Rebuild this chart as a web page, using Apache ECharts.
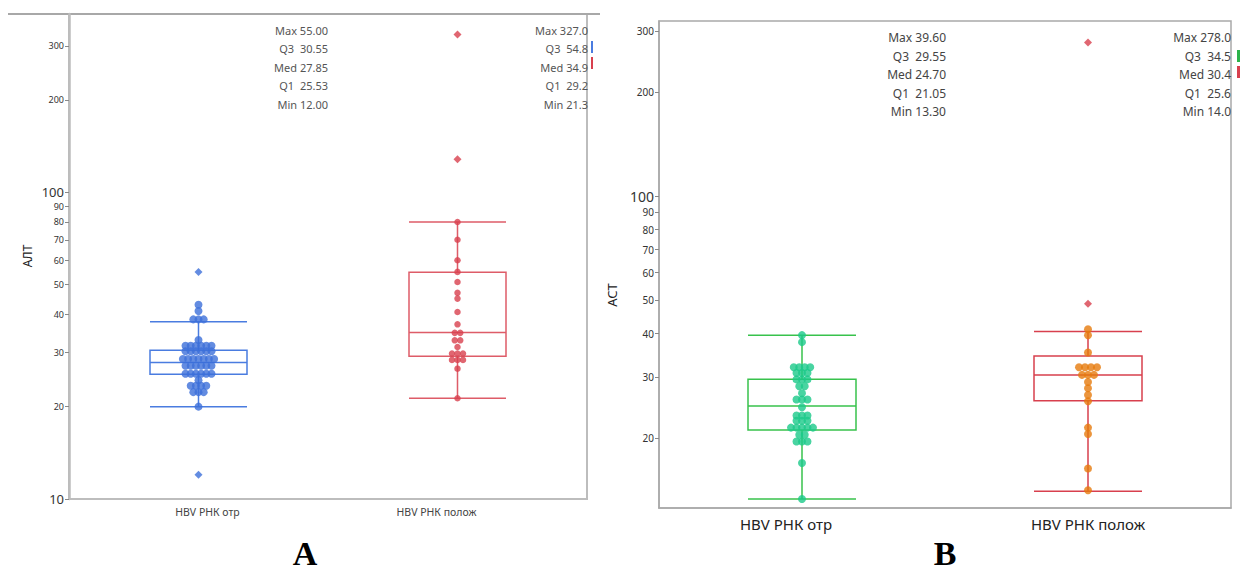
<!DOCTYPE html>
<html>
<head>
<meta charset="utf-8">
<script src="https://cdn.jsdelivr.net/npm/echarts@6/dist/echarts.min.js"></script>
<style>
html,body{margin:0;padding:0;background:#fff}
#main{width:1241px;height:573px}
</style>
</head>
<body>
<div id="main"></div>
<script>
var categories = ['HBV РНК отр', 'HBV РНК полож'];

// АЛТ (панель A)
var altNeg = [43, 41, 38.5, 38.5, 38.5, 33,
  31.6, 31.6, 31.6, 31.6, 31.6, 31.6,
  30.3, 30.3, 30.3, 30.3, 30.3, 30.3,
  28.6, 28.6, 28.6, 28.6, 28.6, 28.6, 28.6,
  27.2, 27.2, 27.2, 27.2, 27.2, 27.2,
  25.6, 25.6, 25.6, 25.6, 25.6, 25.6,
  24.4, 23.4, 23.4, 23.4, 23.4, 22.3, 22.3, 22.3, 20];
var altNegOut = [55, 12];
var altPos = [80, 70, 60, 55, 51, 47, 45, 40.7, 37.1, 34.8, 34.8, 32.9, 32.9, 31.3,
  29.8, 29.8, 29.8, 28.4, 28.4, 28.4, 26.6, 21.3];
var altPosOut = [327, 128];
var altNegBox = [20.0, 25.53, 27.85, 30.55, 37.8];
var altPosBox = [21.3, 29.2, 34.9, 54.8, 80];
var altTicks = [10, 20, 30, 40, 50, 60, 70, 80, 90, 100, 200, 300];

// АСТ (панель B)
var astNeg = [39.6, 37.8, 32, 32, 32, 32, 30.8, 30.8, 30.8, 29.5, 29.5, 29.5,
  28.2, 28.2, 26.9, 25.8, 25.8, 25.8, 24.5, 23.2, 23.2, 23.2, 22.4, 22.4, 22.4,
  21.4, 21.4, 21.4, 21.4, 21.4, 20.4, 20.4, 19.5, 19.5, 19.5, 16.9, 13.3];
var astPos = [41.2, 39.6, 35.3, 32, 32, 32, 32, 30.4, 30.4, 30.4, 29.0, 27.8, 26.6, 25.5,
  21.4, 20.5, 16.3, 14.1];
var astPosOut = [278, 48.8];
var astNegBox = [13.3, 21.05, 24.7, 29.55, 39.6];
var astPosBox = [14.0, 25.6, 30.4, 34.5, 40.6];
var astTicks = [20, 30, 40, 50, 60, 70, 80, 90, 100, 200, 300];

// сводка
var statNames = ['Max', 'Q3', 'Med', 'Q1', 'Min'];
var altNegStats = ['55.00', '30.55', '27.85', '25.53', '12.00'];
var altPosStats = ['327.0', '54.8', '34.9', '29.2', '21.3'];
var astNegStats = ['39.60', '29.55', '24.70', '21.05', '13.30'];
var astPosStats = ['278.0', '34.5', '30.4', '25.6', '14.0'];

var FONT = '"Noto Sans", "Open Sans", sans-serif';
function lg(v){ return Math.log10(v); }

// точки одного значения в ряд по центру
function swarm(vals, cat, spacing){
  var rows = {}, order = [];
  vals.forEach(function(v){
    if (rows[v] === undefined) { rows[v] = 0; order.push(v); }
    rows[v]++;
  });
  var out = [];
  order.forEach(function(v){
    var n = rows[v];
    for (var i = 0; i < n; i++) {
      out.push({value: [cat, lg(v)], symbolOffset: [(i - (n - 1) / 2) * spacing, 0]});
    }
  });
  return out;
}

function statTexts(vals, right, top, step, size, color){
  return statNames.map(function(n, i){
    return {
      type: 'text', x: right, y: top + i * step, z: 10,
      style: {text: n + (n.length < 3 ? '  ' : ' ') + vals[i], align: 'right', verticalAlign: 'middle',
        fill: color, font: size + 'px ' + FONT}
    };
  });
}

function yAxisFor(idx, ticks, min, max, smallSize, bigSize){
  var lv = ticks.map(lg);
  return {
    type: 'value', gridIndex: idx, min: min, max: max,
    splitLine: {show: false},
    axisLine: {show: true, lineStyle: {color: idx === 0 ? '#bdbdbd' : '#a9a9a9', width: idx === 0 ? 2.5 : 1.5}},
    axisTick: {show: true, length: 4, customValues: lv, lineStyle: {color: '#888'}},
    axisLabel: {
      customValues: lv, margin: 5,
      formatter: function(v){
        var n = Math.round(Math.pow(10, v));
        return (n === 10 || n === 100) ? '{big|' + n + '}' : '{sm|' + n + '}';
      },
      rich: {
        big: {fontSize: bigSize, color: '#333', fontFamily: FONT},
        sm: {fontSize: smallSize, color: '#333', fontFamily: FONT}
      }
    }
  };
}

var chart = echarts.init(document.getElementById('main'), null, {renderer: 'svg'});

var option = {
  backgroundColor: '#fff',
  animation: false,
  grid: [
    {left: 69, top: 14, width: 518, height: 485, show: true, borderColor: '#bdbdbd', borderWidth: 2},
    {left: 659, top: 21, width: 572, height: 487, show: true, borderColor: '#a9a9a9', borderWidth: 1.5}
  ],
  xAxis: [
    {
      type: 'category', gridIndex: 0, data: categories,
      axisLine: {lineStyle: {color: '#bdbdbd', width: 2}},
      axisTick: {show: false},
      axisLabel: {
        margin: 7,
        formatter: function(v, i){ return (i === 0 ? '{a|' : '{b|') + v + '}'; },
        rich: {
          a: {fontSize: 10.5, color: '#444', fontFamily: FONT, padding: [0, 0, 0, 18]},
          b: {fontSize: 10.5, color: '#444', fontFamily: FONT, padding: [0, 42, 0, 0]}
        }
      }
    },
    {
      type: 'category', gridIndex: 1, data: categories,
      axisLine: {lineStyle: {color: '#a9a9a9', width: 1.5}},
      axisTick: {show: false},
      axisLabel: {
        margin: 8,
        formatter: function(v, i){ return (i === 0 ? '{a|' : '{b|') + v + '}'; },
        rich: {
          a: {fontSize: 15, color: '#222', fontFamily: FONT, padding: [0, 32, 0, 0]},
          b: {fontSize: 15, color: '#222', fontFamily: FONT}
        }
      }
    }
  ],
  yAxis: [
    yAxisFor(0, altTicks, 1, 2.581, 9, 13),
    yAxisFor(1, astTicks, 1.098, 2.506, 10, 14)
  ],
  series: [
    {
      type: 'boxplot', xAxisIndex: 0, yAxisIndex: 0, silent: true,
      boxWidth: [97, 97],
      itemStyle: {color: 'rgba(255,255,255,0)', borderWidth: 1.5},
      data: [
        {value: altNegBox.map(lg), itemStyle: {borderColor: '#4a7ce0'}},
        {value: altPosBox.map(lg), itemStyle: {borderColor: 'rgba(216,64,78,0.85)'}}
      ]
    },
    {type: 'scatter', xAxisIndex: 0, yAxisIndex: 0, z: 3, symbol: 'circle', symbolSize: 8,
      itemStyle: {color: '#3c6fd9'}, data: swarm(altNeg, 0, 5.2)},
    {type: 'scatter', xAxisIndex: 0, yAxisIndex: 0, z: 3, symbol: 'diamond', symbolSize: 8,
      itemStyle: {color: '#3c6fd9'}, data: swarm(altNegOut, 0, 5.2)},
    {type: 'scatter', xAxisIndex: 0, yAxisIndex: 0, z: 3, symbol: 'circle', symbolSize: 6.5,
      itemStyle: {color: '#d8404e'}, data: swarm(altPos, 1, 5.5)},
    {type: 'scatter', xAxisIndex: 0, yAxisIndex: 0, z: 3, symbol: 'diamond', symbolSize: 8,
      itemStyle: {color: '#d8404e'}, data: swarm(altPosOut, 1, 5.5)},
    {
      type: 'boxplot', xAxisIndex: 1, yAxisIndex: 1, silent: true,
      boxWidth: [108, 108],
      itemStyle: {color: 'rgba(255,255,255,0)', borderWidth: 1.5},
      data: [
        {value: astNegBox.map(lg), itemStyle: {borderColor: '#38c24c'}},
        {value: astPosBox.map(lg), itemStyle: {borderColor: '#d8404e'}}
      ]
    },
    {type: 'scatter', xAxisIndex: 1, yAxisIndex: 1, z: 3, symbol: 'circle', symbolSize: 8,
      itemStyle: {color: '#1cc98a'}, data: swarm(astNeg, 0, 5.5)},
    {type: 'scatter', xAxisIndex: 1, yAxisIndex: 1, z: 3, symbol: 'circle', symbolSize: 8,
      itemStyle: {color: '#e67a0c'}, data: swarm(astPos, 1, 6)},
    {type: 'scatter', xAxisIndex: 1, yAxisIndex: 1, z: 3, symbol: 'diamond', symbolSize: 8,
      itemStyle: {color: '#d8404e'}, data: swarm(astPosOut, 1, 6)}
  ],
  graphic: [].concat(
    statTexts(altNegStats, 328, 30, 18.5, 11, '#555'),
    statTexts(altPosStats, 588, 30, 18.5, 11, '#555'),
    statTexts(astNegStats, 946, 37.5, 18.5, 12, '#444'),
    statTexts(astPosStats, 1231, 37.5, 18.5, 12, '#444'),
    [
      {type: 'line', shape: {x1: 8, y1: 14, x2: 600, y2: 14}, style: {stroke: '#a8a8a8', lineWidth: 2}},
      {type: 'rect', shape: {x: 591, y: 41, width: 2, height: 12}, style: {fill: '#4a7ce0'}},
      {type: 'rect', shape: {x: 591, y: 57, width: 2, height: 12}, style: {fill: '#d8404e'}},
      {type: 'rect', shape: {x: 1237, y: 50, width: 3, height: 12}, style: {fill: '#2cb34a'}},
      {type: 'rect', shape: {x: 1237, y: 66, width: 3, height: 12}, style: {fill: '#d8404e'}},
      {type: 'text', x: 27, y: 256, rotation: Math.PI / 2,
        style: {text: 'АЛТ', align: 'center', verticalAlign: 'middle', fill: '#222', font: '12px ' + FONT}},
      {type: 'text', x: 612, y: 295, rotation: Math.PI / 2,
        style: {text: 'АСТ', align: 'center', verticalAlign: 'middle', fill: '#222', font: '13px ' + FONT}},
      {type: 'text', x: 305, y: 553,
        style: {text: 'A', align: 'center', verticalAlign: 'middle', fill: '#000',
          font: 'bold 34px "Liberation Serif", serif'}},
      {type: 'text', x: 945, y: 553,
        style: {text: 'B', align: 'center', verticalAlign: 'middle', fill: '#000',
          font: 'bold 34px "Liberation Serif", serif'}}
    ]
  )
};

chart.setOption(option);
</script>
</body>
</html>
